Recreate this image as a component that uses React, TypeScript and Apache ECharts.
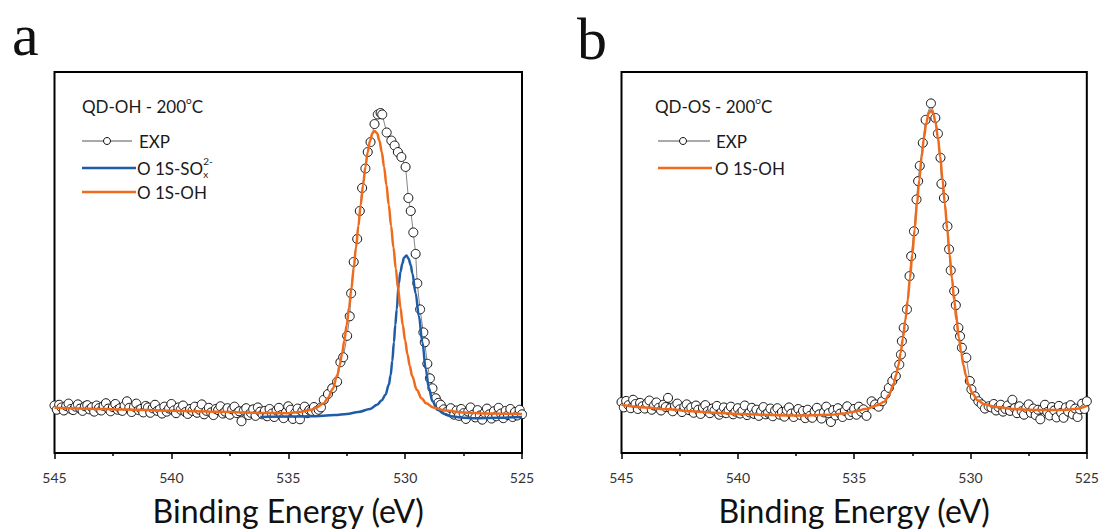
import React, { useEffect, useRef } from "react";
import * as echarts from "echarts";

// ---------- data ----------
const xTicks = [545, 540, 535, 530, 525];
const axisTitle = "Binding Energy (eV)";
const panelLabels = ["a", "b"];
const sampleTitles = ["QD-OH - 200", "QD-OS - 200"];
const seriesNamesA = ["EXP", "O 1S-SO", "O 1S-OH"];
const seriesNamesB = ["EXP", "O 1S-OH"];

// Panel a, EXP: baseline from 545.0 down to 533.6 in 0.1 eV steps
const expALeftStart = 545.0;
const expALeft = [
  12.9, 11.8, 13.1, 12.4, 11.6, 12.8, 13.4, 12.0, 11.7, 12.6,
  13.2, 12.1, 11.5, 12.7, 13.0, 11.9, 12.4, 11.3, 12.9, 12.2,
  11.6, 12.8, 13.5, 12.1, 11.4, 12.5, 13.3, 11.8, 12.2, 11.5,
  12.9, 14.0, 12.3, 11.2, 12.6, 13.4, 11.7, 12.0, 11.1, 12.8,
  12.4, 11.0, 12.2, 13.1, 11.5, 11.9, 10.8, 12.6, 11.3, 12.1,
  13.3, 11.6, 10.9, 12.4, 11.8, 12.9, 11.2, 10.7, 12.0, 11.5,
  12.6, 11.0, 11.8, 13.2, 10.6, 11.5, 12.3, 11.1, 10.4, 12.0,
  11.7, 12.7, 10.8, 11.3, 12.2, 10.5, 11.9, 12.6, 10.9, 11.4,
  8.8, 11.6, 12.2, 10.4, 11.0, 11.9, 10.2, 12.4, 11.3, 10.6,
  11.5, 10.1, 12.0, 10.8, 9.9, 11.6, 12.3, 10.4, 9.6, 11.1,
  12.7, 11.8, 9.4, 11.0, 12.1, 9.3, 11.4, 12.6, 10.9, 11.7,
  11.5, 12.5, 11.4, 11.8, 12.4,
];
const expAPeak = [
  [533.48, 14.4], [533.3, 15.9], [533.12, 17.4], [532.91, 19.1], [532.77, 24.2],
  [532.65, 25.5], [532.48, 31.1], [532.37, 36.2], [532.31, 42.2], [532.2, 50.4],
  [532.05, 56.4], [531.94, 63.7], [531.84, 69.7], [531.7, 74.8], [531.6, 79.1],
  [531.48, 81.7], [531.31, 86.4], [531.17, 88.9], [531.05, 89.3], [530.98, 88.9],
  [530.79, 84.2], [530.59, 82.1], [530.45, 80.8], [530.31, 79.1], [530.16, 77.8],
  [529.98, 75.2], [529.86, 67.1], [529.76, 63.7], [529.65, 58.1], [529.55, 52.5],
  [529.48, 44.8], [529.36, 38.0], [529.22, 32.0], [529.16, 29.4], [529.05, 23.8],
  [528.94, 20.0], [528.83, 17.4], [528.69, 14.8], [528.58, 13.6], [528.48, 13.1],
  [528.35, 11.9], [528.19, 11.4], [528.05, 12.2], [527.9, 10.5],
];
const expARightStart = 527.8;
const expARight = [
  11.6, 10.2, 12.0, 10.9, 9.4, 11.3, 12.4, 10.5, 9.8, 11.7,
  10.3, 9.2, 11.0, 12.1, 10.6, 9.5, 11.4, 10.1, 12.3, 10.8,
  9.6, 11.5, 10.4, 12.0, 9.9, 11.2, 10.3, 11.8, 10.6,
];
const fitOHA = [
  [545, 12.3], [544, 12.15], [543, 12.0], [542, 11.85], [541, 11.7], [540, 11.55],
  [539, 11.4], [538, 11.25], [537, 11.1], [536, 10.95], [535, 10.9], [534.5, 11.2],
  [534.0, 11.8], [533.8, 12.4], [533.5, 13.4], [533.3, 14.9], [533.1, 17.2],
  [532.9, 20.9], [532.8, 23.4], [532.7, 26.4], [532.6, 29.9], [532.5, 33.9],
  [532.4, 38.5], [532.3, 43.4], [532.2, 48.7], [532.1, 54.2], [532.0, 59.8],
  [531.9, 65.3], [531.8, 70.5], [531.7, 75.2], [531.6, 79.1], [531.5, 82.1],
  [531.4, 84.0], [531.3, 84.6], [531.2, 84.0], [531.1, 82.1], [531.0, 79.1],
  [530.9, 75.2], [530.8, 70.5], [530.7, 65.3], [530.6, 59.8], [530.5, 54.2],
  [530.4, 48.7], [530.3, 43.4], [530.2, 38.5], [530.1, 33.9], [530.0, 29.9],
  [529.9, 26.3], [529.8, 23.2], [529.7, 20.6], [529.5, 17.0], [529.3, 14.8],
  [529.1, 13.5], [528.8, 12.4], [528.3, 11.6], [527.5, 11.1], [526.5, 10.8], [525.0, 10.7],
];
const fitSOxA = [
  [536.2, 9.9], [535.0, 10.0], [534.0, 10.1], [533.0, 10.4], [532.5, 10.7],
  [532.0, 11.2], [531.5, 12.0], [531.2, 13.1], [531.0, 14.3], [530.84, 15.7],
  [530.7, 18.3], [530.62, 20.8], [530.55, 24.5], [530.48, 29.4], [530.42, 34.0],
  [530.36, 38.0], [530.27, 44.8], [530.2, 47.8], [530.12, 49.9], [530.05, 51.5],
  [529.94, 52.1], [529.85, 51.2], [529.76, 49.5], [529.69, 47.4], [529.55, 42.2],
  [529.41, 36.2], [529.26, 29.4], [529.12, 22.5], [528.98, 17.4], [528.83, 14.0],
  [528.62, 11.8], [528.3, 10.7], [528.05, 10.1], [527.5, 9.7], [527.0, 9.6],
  [526.0, 9.7], [525.0, 9.9],
];

// Panel b, EXP: baseline from 545.0 down to 534.6 in 0.1 eV steps
const expBLeftStart = 545.0;
const expBLeft = [
  13.8, 12.4, 14.1, 13.0, 12.2, 14.4, 13.3, 12.0, 13.6, 12.7,
  12.1, 13.5, 14.2, 11.8, 12.9, 13.7, 12.3, 11.6, 13.1, 12.5,
  14.9, 12.2, 11.4, 12.8, 13.4, 11.9, 11.2, 12.6, 13.2, 11.7,
  12.4, 11.0, 12.9, 11.8, 10.7, 12.3, 13.0, 11.4, 10.9, 12.1,
  11.6, 12.8, 10.5, 11.2, 12.4, 10.9, 11.7, 12.6, 10.6, 11.3,
  12.2, 10.8, 11.5, 12.9, 10.4, 11.1, 12.3, 10.7, 11.8, 10.2,
  11.4, 12.5, 10.6, 11.0, 12.1, 10.1, 11.6, 12.2, 10.5, 11.2,
  10.0, 11.7, 12.4, 10.8, 9.9, 11.3, 12.0, 10.4, 11.5, 9.6,
  11.8, 10.2, 9.7, 11.4, 12.3, 10.6, 9.5, 11.1, 12.6, 10.9,
  8.6, 11.7, 10.3, 12.2, 10.8, 9.9, 11.5, 12.7, 10.4, 11.2,
  12.0, 10.5, 12.6, 11.3, 11.9,
];
const expBPeak = [
  [534.47, 10.2], [534.25, 14.0], [534.1, 13.2], [533.95, 12.6], [533.8, 14.0],
  [533.65, 15.8], [533.51, 17.5], [533.36, 19.3], [533.21, 20.6], [533.06, 23.6],
  [532.99, 26.2], [532.95, 29.7], [532.87, 33.2], [532.73, 38.0], [532.62, 46.7],
  [532.55, 51.9], [532.43, 58.4], [532.32, 66.7], [532.25, 71.5], [532.18, 75.5],
  [532.05, 81.5], [531.93, 87.5], [531.7, 91.8], [531.51, 88.0], [531.4, 83.9],
  [531.29, 77.6], [531.25, 70.8], [531.14, 67.1], [530.99, 59.7], [530.92, 53.7],
  [530.85, 48.2], [530.7, 42.8], [530.63, 39.1], [530.52, 33.2], [530.45, 31.0],
  [530.37, 28.0], [530.18, 25.4], [530.03, 19.3], [529.96, 17.1], [529.81, 15.3],
  [529.66, 14.0], [529.52, 13.2], [529.38, 12.1], [529.22, 12.7],
];
const expBRightStart = 529.1;
const expBRight = [
  12.4, 13.3, 11.6, 12.5, 13.1, 11.3, 12.0, 12.9, 11.5, 14.4,
  12.2, 10.9, 12.7, 11.4, 10.5, 12.3, 13.2, 11.0, 12.1, 10.4,
  11.8, 9.3, 12.0, 13.1, 11.2, 10.3, 12.5, 11.6, 9.8, 12.8,
  11.0, 9.7, 12.4, 11.3, 13.0, 10.6, 12.1, 9.9, 11.9, 13.4,
  12.0, 14.0,
];
const fitOHB = [
  [545, 13.1], [544, 12.4], [543, 11.9], [542, 11.4], [541, 11.0], [540, 10.7],
  [539, 10.5], [538, 10.3], [537, 10.3], [536, 10.5], [535.5, 10.8], [535.0, 11.3],
  [534.5, 12.0], [534.0, 13.0], [533.7, 13.9], [533.5, 15.7], [533.3, 18.6],
  [533.2, 20.8], [533.1, 23.4], [533.0, 26.7], [532.9, 30.6], [532.8, 35.2],
  [532.7, 40.4], [532.6, 46.2], [532.5, 52.4], [532.4, 58.9], [532.3, 65.5],
  [532.2, 71.8], [532.1, 77.8], [532.0, 82.8], [531.9, 86.7], [531.8, 89.2],
  [531.7, 90.0], [531.6, 89.2], [531.5, 86.7], [531.4, 82.8], [531.3, 77.8],
  [531.2, 71.8], [531.1, 65.5], [531.0, 58.9], [530.9, 52.4], [530.8, 46.2],
  [530.7, 40.4], [530.6, 35.2], [530.5, 30.6], [530.4, 26.7], [530.3, 23.4],
  [530.2, 20.8], [530.1, 18.6], [529.9, 15.9], [529.7, 14.3], [529.4, 13.2],
  [528.9, 12.5], [528.0, 11.9], [527.0, 11.7], [526.0, 11.7], [525.5, 12.0], [525.0, 12.8],
];

// ---------- helpers ----------
const FONT = "Lato, 'Open Sans', sans-serif";
const ORANGE = "#f06a1c";
const BLUE = "#1f5ca8";

const stepSeries = (start: number, step: number, vals: number[]) =>
  vals.map((v, i) => [Math.round((start - step * i) * 100) / 100, v]);

let measureCtx: CanvasRenderingContext2D | null = null;
function textWidth(t: string, size: number) {
  if (!measureCtx) measureCtx = document.createElement("canvas").getContext("2d");
  if (!measureCtx) return t.length * size * 0.5;
  measureCtx.font = `${size}px ${FONT}`;
  return measureCtx.measureText(t).width;
}

type Seg = { t: string; size: number; dy: number; stackNext?: boolean };
function composedText(x: number, y: number, segs: Seg[]) {
  const out: any[] = [];
  let cx = x;
  segs.forEach((s) => {
    out.push({
      type: "text",
      x: cx,
      y: y + s.dy,
      silent: true,
      style: { text: s.t, fontSize: s.size, fontFamily: FONT, fill: "#1a1a1a", verticalAlign: "middle", align: "left" },
    });
    if (!s.stackNext) cx += textWidth(s.t, s.size);
  });
  return out;
}

const LEG = 17;

function legendA(): any[] {
  const x0 = 82;
  return [
    ...composedText(x0, 106, [
      { t: sampleTitles[0], size: LEG, dy: 0 },
      { t: "o", size: 10, dy: -6 },
      { t: "C", size: LEG, dy: 0 },
    ]),
    { type: "line", silent: true, shape: { x1: x0, y1: 141, x2: 132, y2: 141 }, style: { stroke: "#555", lineWidth: 1 } },
    { type: "circle", silent: true, shape: { cx: 107, cy: 141, r: 3.5 }, style: { fill: "#fff", stroke: "#111", lineWidth: 1 } },
    ...composedText(139, 141, [{ t: seriesNamesA[0], size: LEG, dy: 0 }]),
    { type: "line", silent: true, shape: { x1: x0, y1: 168, x2: 136, y2: 168 }, style: { stroke: BLUE, lineWidth: 2.5 } },
    ...composedText(137, 168, [
      { t: seriesNamesA[1], size: LEG, dy: 0 },
      { t: "x", size: 10, dy: 6, stackNext: true },
      { t: "2-", size: 10, dy: -7 },
    ]),
    { type: "line", silent: true, shape: { x1: x0, y1: 192, x2: 136, y2: 192 }, style: { stroke: ORANGE, lineWidth: 2.5 } },
    ...composedText(137, 192, [{ t: seriesNamesA[2], size: LEG, dy: 0 }]),
  ];
}

function legendB(): any[] {
  const x0 = 658;
  return [
    ...composedText(655, 106, [
      { t: sampleTitles[1], size: LEG, dy: 0 },
      { t: "o", size: 10, dy: -6 },
      { t: "C", size: LEG, dy: 0 },
    ]),
    { type: "line", silent: true, shape: { x1: x0, y1: 141, x2: 710, y2: 141 }, style: { stroke: "#555", lineWidth: 1 } },
    { type: "circle", silent: true, shape: { cx: 683, cy: 141, r: 3.5 }, style: { fill: "#fff", stroke: "#111", lineWidth: 1 } },
    ...composedText(716, 141, [{ t: seriesNamesB[0], size: LEG, dy: 0 }]),
    { type: "line", silent: true, shape: { x1: x0, y1: 168, x2: 712, y2: 168 }, style: { stroke: ORANGE, lineWidth: 2.5 } },
    ...composedText(715, 168, [{ t: seriesNamesB[1], size: LEG, dy: 0 }]),
  ];
}

function expSeries(idx: number, data: number[][]) {
  return {
    type: "line",
    xAxisIndex: idx,
    yAxisIndex: idx,
    data,
    silent: true,
    symbol: "circle",
    symbolSize: 9,
    showSymbol: true,
    itemStyle: { color: "#fff", borderColor: "#111", borderWidth: 1 },
    lineStyle: { color: "#666", width: 0.8 },
    z: 2,
  };
}
function fitSeries(idx: number, data: number[][], color: string, z: number) {
  return {
    type: "line",
    xAxisIndex: idx,
    yAxisIndex: idx,
    data,
    silent: true,
    symbol: "none",
    smooth: 0.35,
    smoothMonotone: "x",
    lineStyle: { color, width: 2.5 },
    z,
  };
}

export default function App() {
  const ref = useRef<HTMLDivElement>(null);
  useEffect(() => {
    if (!ref.current) return;
    const chart = echarts.init(ref.current, undefined, { renderer: "svg" });

    const expA = [
      ...stepSeries(expALeftStart, 0.1, expALeft),
      ...expAPeak,
      ...stepSeries(expARightStart, 0.1, expARight),
    ];
    const expB = [
      ...stepSeries(expBLeftStart, 0.1, expBLeft),
      ...expBPeak,
      ...stepSeries(expBRightStart, 0.1, expBRight),
    ];

    const grids = [
      { left: 54.5, top: 72, width: 467.5, height: 387 },
      { left: 621.5, top: 72, width: 468, height: 387 },
    ];

    chart.setOption({
      animation: false,
      backgroundColor: "#fff",
      grid: grids.map((g) => ({ ...g, show: true, borderColor: "#000", borderWidth: 2, backgroundColor: "transparent" })),
      xAxis: grids.map((_, i) => ({
        gridIndex: i,
        type: "value",
        min: xTicks[xTicks.length - 1],
        max: xTicks[0],
        interval: 5,
        inverse: true,
        axisLine: { show: false },
        splitLine: { show: false },
        axisTick: { show: true, inside: false, length: 6, lineStyle: { color: "#000", width: 1.5 } },
        minorTick: { show: true, splitNumber: 2, length: 3, lineStyle: { color: "#000", width: 1.5 } },
        axisLabel: { fontSize: 14, color: "#333", margin: 17, fontFamily: FONT },
        name: axisTitle,
        nameLocation: "middle",
        nameGap: 41,
        nameTextStyle: { fontSize: 32, color: "#111", fontFamily: FONT },
      })),
      yAxis: grids.map((_, i) => ({ gridIndex: i, type: "value", min: 0.5, max: 100, show: false })),
      series: [
        expSeries(0, expA),
        fitSeries(0, fitSOxA, BLUE, 3),
        fitSeries(0, fitOHA, ORANGE, 4),
        expSeries(1, expB),
        fitSeries(1, fitOHB, ORANGE, 4),
      ],
      graphic: [
        {
          type: "text", x: 12, y: 35, silent: true,
          style: { text: panelLabels[0], fontSize: 60, fontFamily: "'Liberation Serif', serif", fill: "#111", verticalAlign: "middle" },
        },
        {
          type: "text", x: 577, y: 39, silent: true,
          style: { text: panelLabels[1], fontSize: 60, fontFamily: "'Liberation Serif', serif", fill: "#111", verticalAlign: "middle" },
        },
        ...legendA(),
        ...legendB(),
      ],
    });
    return () => chart.dispose();
  }, []);
  return (
    <div
      ref={ref}
      style={{ position: "fixed", left: 0, top: 0, width: 1102, height: 531, background: "#fff" }}
    />
  );
}
